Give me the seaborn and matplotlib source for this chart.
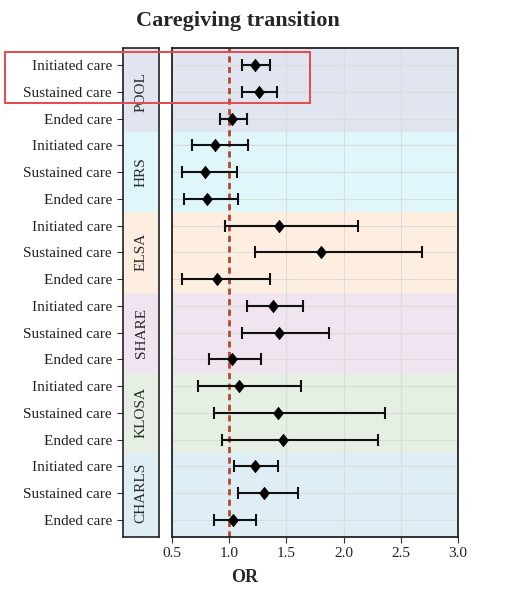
import numpy as np
import pandas as pd
import matplotlib
matplotlib.use("Agg")
import matplotlib.pyplot as plt
import seaborn as sns
from matplotlib.patches import Rectangle

# ---- data ----
groups = ["POOL", "HRS", "ELSA", "SHARE", "KLOSA", "CHARLS"]
transitions = ["Initiated care", "Sustained care", "Ended care"]
or_vals = [1.225, 1.26, 1.027,
           0.879, 0.786, 0.806,
           1.438, 1.80, 0.896,
           1.38, 1.438, 1.024,
           1.085, 1.43, 1.467,
           1.225, 1.306, 1.036]
ci_low = [1.115, 1.115, 0.917,
          0.677, 0.585, 0.602,
          0.966, 1.223, 0.585,
          1.158, 1.109, 0.82,
          0.724, 0.87, 0.94,
          1.044, 1.077, 0.87]
ci_high = [1.36, 1.42, 1.153,
           1.162, 1.068, 1.08,
           2.126, 2.685, 1.357,
           1.642, 1.872, 1.278,
           1.63, 2.36, 2.30,
           1.43, 1.60, 1.237]
band_colors = ["#e0e5ef", "#dff7fa", "#fdeee0", "#efe4ef", "#e5efe3", "#dfeef5"]
xticks = [0.5, 1.0, 1.5, 2.0, 2.5, 3.0]

n = len(groups) * len(transitions)
df = pd.DataFrame({
    "group": np.repeat(groups, len(transitions)),
    "transition": transitions * len(groups),
    "OR": or_vals,
    "lo": ci_low,
    "hi": ci_high,
})
df["row"] = np.arange(n)

sns.set_theme(style="white")
plt.rcParams["font.family"] = ["Liberation Serif", "DejaVu Serif"]

W, H = 506, 598
fig = plt.figure(figsize=(W / 100, H / 100), dpi=100)

top_px, bot_px = 48, 537
ax_lab = fig.add_axes([123 / W, (H - bot_px) / H, 36 / W, (bot_px - top_px) / H])
ax = fig.add_axes([172 / W, (H - bot_px) / H, 286 / W, (bot_px - top_px) / H])

pad = 0.64
ylo, yhi = -pad, n - 1 + pad
for a in (ax, ax_lab):
    a.set_ylim(yhi, ylo)

# bands
for gi, g in enumerate(groups):
    y0 = gi * 3 - 0.5 if gi > 0 else ylo
    y1 = gi * 3 + 2.5 if gi < len(groups) - 1 else yhi
    ax.axhspan(y0, y1, color=band_colors[gi], zorder=0, lw=0)
    ax_lab.axhspan(y0, y1, color=band_colors[gi], zorder=0, lw=0)
    ax_lab.text(0.5, gi * 3 + 1, g, rotation=90, ha="center", va="center",
                fontsize=11, color="#2a2a2a")

# label panel
ax_lab.set_xlim(0, 1)
ax_lab.set_xticks([])
ax_lab.set_yticks(df["row"])
ax_lab.set_yticklabels(df["transition"], fontsize=11, color="#222222")
ax_lab.tick_params(axis="y", length=4, width=0.8, color="#333333", left=True, pad=4)
for s in ax_lab.spines.values():
    s.set_color("#222222")
    s.set_linewidth(1.2)

# main
ax.set_xlim(0.5, 3.0)
ax.set_xticks(xticks)
ax.set_xticklabels([f"{v:.1f}" for v in xticks], fontsize=11, color="#222222")
ax.set_yticks(df["row"])
ax.set_yticklabels([])
ax.tick_params(axis="y", length=0)
ax.tick_params(axis="x", length=4, width=0.8, color="#333333", bottom=True, pad=3)
ax.grid(True, color="#dcdcdc", lw=0.8, zorder=0.5)
for line in ax.get_xgridlines() + ax.get_ygridlines():
    line.set_zorder(0.5)
for s in ax.spines.values():
    s.set_color("#222222")
    s.set_linewidth(1.3)

ax.axvline(1.0, color="#b04a2e", ls=(0, (2.2, 1.6)), lw=2.0, zorder=1)

ax.errorbar(df["OR"], df["row"],
            xerr=[df["OR"] - df["lo"], df["hi"] - df["OR"]],
            fmt="none", ecolor="#111111", elinewidth=1.5, capsize=4, capthick=1.5, zorder=2)
diamond = [(-0.4, 0), (0, 0.5), (0.4, 0), (0, -0.5), (-0.4, 0)]
sns.scatterplot(data=df, x="OR", y="row", marker=diamond, s=80, color="black",
                edgecolor="black", linewidth=0.5, ax=ax, zorder=3, legend=False)
ax.set_ylim(yhi, ylo)
ax.set_ylabel("")
ax.set_xlabel("")

fig.text(245 / W, 1 - 578 / H, "OR", ha="center", va="center",
         fontsize=13, fontweight="bold")
fig.text(238 / W, 1 - 21 / H, "Caregiving transition", ha="center", va="center",
         fontsize=16, fontweight="bold")

# highlight rectangle
fig.patches.append(Rectangle((5 / W, 1 - 103 / H), 305 / W, 51 / H, transform=fig.transFigure,
                             fill=False, edgecolor="#e8484a", lw=1.4, zorder=10))

fig.savefig("out.png", dpi=100, facecolor="white")
